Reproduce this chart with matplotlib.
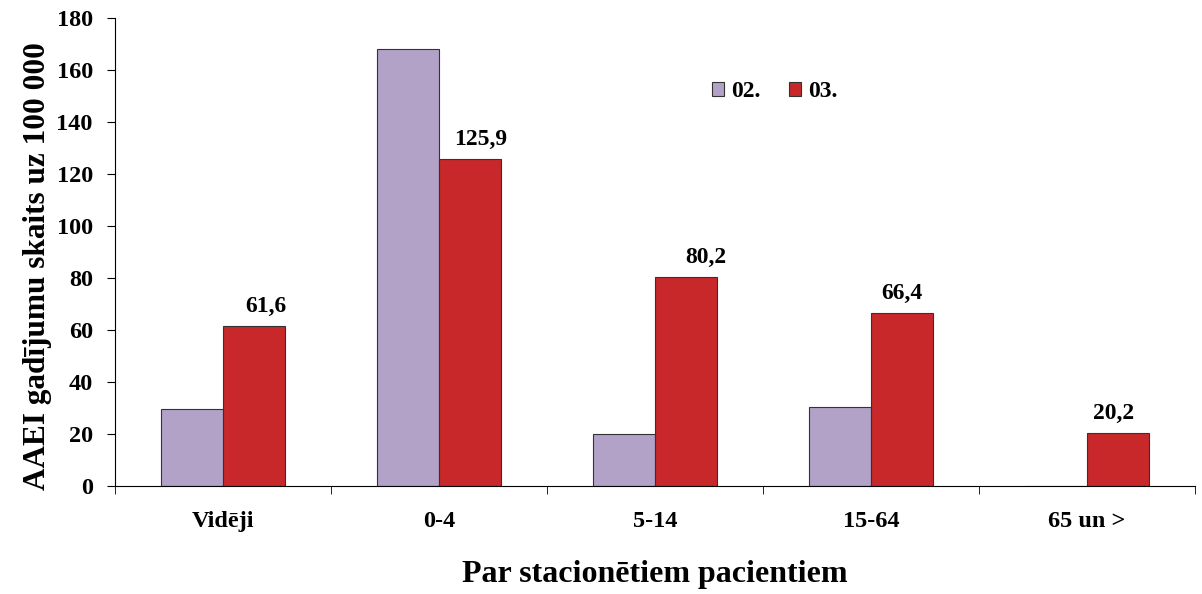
import numpy as np
import matplotlib.pyplot as plt

# data
categories = ['Vidēji', '0-4', '5-14', '15-64', '65 un >']
series_02 = [29.8, 168.0, 20.0, 30.3, 0.0]
series_03 = [61.6, 125.9, 80.2, 66.4, 20.2]
labels_03 = ['61,6', '125,9', '80,2', '66,4', '20,2']

plt.rcParams['font.family'] = ['Liberation Serif', 'DejaVu Serif']
plt.rcParams['font.weight'] = 'bold'

fig = plt.figure(figsize=(12.02, 5.94), dpi=100)
ax = fig.add_axes([0.0957, 0.1818, 0.8985, 0.7879])

x = np.arange(len(categories))
w = 0.287
ax.bar(x - w / 2, series_02, w, color='#B3A2C7', edgecolor='#333333',
       linewidth=0.8, label='02.')
ax.bar(x + w / 2, series_03, w, color='#C8282A', edgecolor='#333333',
       linewidth=0.8, label='03.')

# value labels over the red bars
offsets = [0.055, 0.05, 0.09, 0.0, -0.02]
for xi, v, txt, dx in zip(x, series_03, labels_03, offsets):
    ax.text(xi + w / 2 + dx, v + 3.5, txt, ha='center', va='bottom',
            fontsize=17, fontweight='bold')

ax.set_xlim(-0.5, len(categories) - 0.5)
ax.set_ylim(0, 180)
ax.set_yticks(range(0, 181, 20))
ax.set_xticks(x)
ax.set_xticklabels(categories)
ax.set_xticks(np.arange(-0.5, len(categories)), minor=True)
ax.tick_params(axis='x', which='major', length=0, pad=18, labelsize=17.5)
ax.tick_params(axis='x', which='minor', length=6, direction='out')
ax.tick_params(axis='y', length=6, direction='out', labelsize=17.5, pad=10)
for lab in ax.get_xticklabels() + ax.get_yticklabels():
    lab.set_fontweight('bold')

ax.spines['top'].set_visible(False)
ax.spines['right'].set_visible(False)

ax.set_ylabel('AAEI gadījumu skaits uz 100 000', fontsize=22.5,
              fontweight='bold')
ax.yaxis.set_label_coords(-0.058, 0.47)
ax.set_xlabel('Par stacionētiem pacientiem', fontsize=23,
              fontweight='bold', labelpad=20)

ax.legend(loc='center', bbox_to_anchor=(0.611, 0.842), ncol=2, frameon=False,
          fontsize=17, handlelength=0.5, handleheight=0.5, columnspacing=1.2,
          handletextpad=0.3)

plt.savefig('out.png', dpi=100)
